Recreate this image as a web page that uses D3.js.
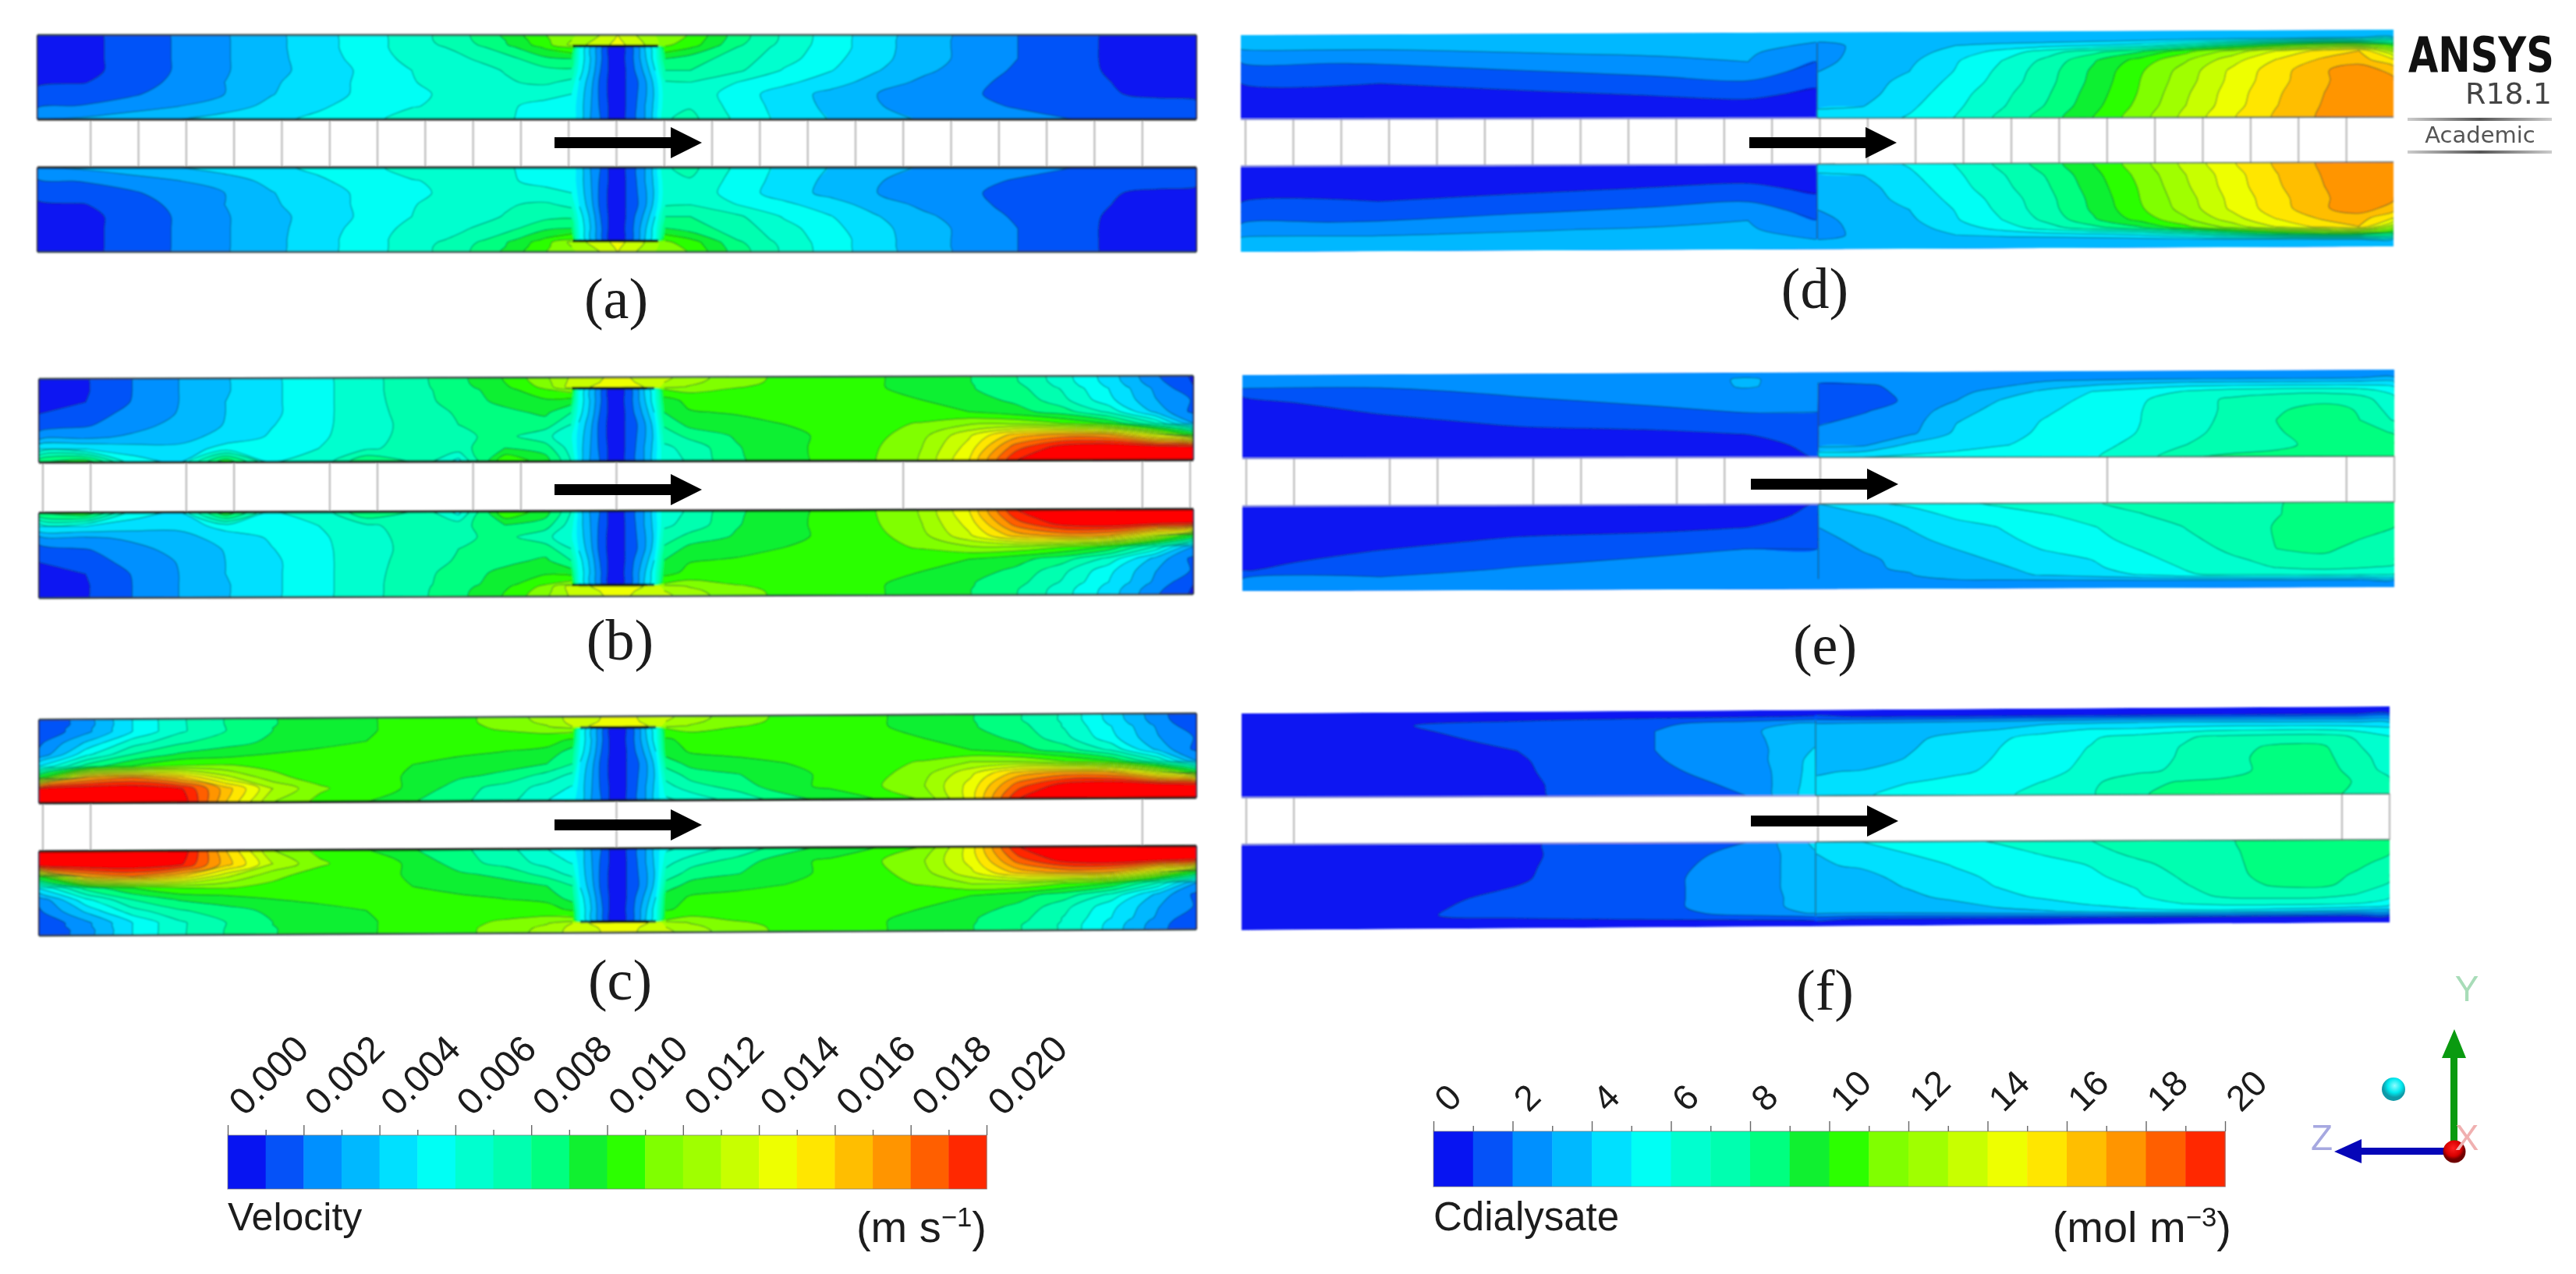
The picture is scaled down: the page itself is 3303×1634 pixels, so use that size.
<!DOCTYPE html>
<html>
<head>
<meta charset="utf-8">
<script src="https://cdn.jsdelivr.net/npm/d3@7"></script>
<style>
  html, body { margin: 0; background: #fff; }
  svg { display: block; }
  text { font-family: "Liberation Sans", Arial, sans-serif; fill: #1c1c1c; }
</style>
</head>
<body>
<svg id="chart" width="3303" height="1634"></svg>
<script>
// band colours shared by both legends, index = band number
const bandColors = ["#0714f2","#0552f8","#0090ff","#00b8ff","#00e0ff","#00fff5","#00ffcf","#00ffb0","#00ff80","#10f030","#2cff00","#80ff00","#a0ff00","#c8ff00","#eeff00","#ffe600","#ffbe00","#ff9500","#ff5f00","#ff2800","#ff0000"];
const bandLevels = d3.range(1, 21);

const velocityTicks = [0,0.002,0.004,0.006,0.008,0.01,0.012,0.014,0.016,0.018,0.02];
const velocityMinorTicks = [0.001,0.003,0.005,0.007,0.009,0.011,0.013,0.015,0.017,0.019];
const concTicks = [0,2,4,6,8,10,12,14,16,18,20];
const concMinorTicks = [1,3,5,7,9,11,13,15,17,19];

// sample positions of the read-off fields: axial along the tube, radial from outer wall (0) to inner wall (1)
const axialVelocity = [0,60,120,180,240,300,360,420,480,540,600,652,685,695,709,722,732,744,756,767,779,792,805,837,897,957,1017,1077,1137,1197,1257,1317,1377,1437,1486];
const radialVelocity = [0,0.06,0.115,0.145,0.28,0.42,0.56,0.7,0.84,1];
const axialConc = [0,12,24,36,44,49.9,50.1,54,58,62,66,70,74,78,82,86,90,94,97,100];
const radialConc = [0,0.08,0.16,0.24,0.34,0.46,0.58,0.72,0.86,1];

// velocity, in mm/s (a)-(c)
const velocityA = [
[.3,.7,1.4,2.1,2.9,3.7,4.6,5.5,6.5,7.6,9.2,11,11.8,12.1,12.6,13,13.5,14,13.5,13,12.6,12,11.7,10.9,8.5,6.8,5.5,4.4,3.45,2.7,2,1.4,.85,.5,.3],
[.3,.7,1.4,2.1,2.9,3.7,4.6,5.5,6.5,7.6,9,10.8,12,12.4,12.9,13.3,13.7,14.2,13.7,13.3,12.8,12.2,11.5,10.7,8.4,6.8,5.5,4.4,3.4,2.7,2,1.4,.85,.5,.3],
[.3,.7,1.4,2.1,2.9,3.7,4.6,5.5,6.5,7.4,8.9,10.6,12.3,12.7,13.2,13.6,13.9,14.5,13.9,13.6,13,12.5,11.2,10.5,8.2,6.7,5.5,4.4,3.4,2.7,2,1.4,.85,.5,.3],
[.3,.7,1.4,2.1,2.9,3.7,4.6,5.5,6.5,7.2,8.6,10.2,11,6,4,2.3,1,.4,1.2,2.4,4,5.7,10.8,10.1,8,6.6,5.5,4.4,3.4,2.7,2,1.4,.85,.5,.3],
[.3,.7,1.4,2.1,2.9,3.7,4.5,5.4,6.3,6.8,7.6,8.8,9,5.8,4,2.2,1,.4,1.2,2.3,3.8,5.5,9,8.5,7.5,6.4,5.3,4.3,3.4,2.7,2,1.4,.85,.5,.3],
[.3,.7,1.4,2.1,2.9,3.7,4.4,5.2,6,6.55,7.05,7.7,7.8,5.5,3.8,2,1,.4,1.1,2.1,3.3,5,8,8,7.2,5.9,5.05,4.05,3.2,2.5,1.85,1.35,.9,.55,.35],
[.85,.95,1.6,2.2,3,3.85,4.55,5.2,5.95,6.4,6.9,7.2,6.7,4.9,3.4,1.7,.9,.4,1.1,1.7,2.8,4.4,6.9,7,6,5.25,4.45,3.55,2.75,2.2,1.75,1.35,1,.75,.6],
[1.25,1.5,1.85,2.5,3,3.95,4.6,5.2,5.85,6.2,6.3,6.2,6,4.6,3.2,1.7,.9,.4,1.1,1.8,2.8,4.2,6.6,6.7,5.5,4.5,3.7,3,2.45,2.1,1.7,1.4,1.05,.85,.75],
[1.8,2.05,2.5,2.95,3.55,4.25,4.85,5.4,5.95,6.2,6.1,5.8,5.6,4.5,3.1,1.8,1,.4,1.1,1.9,3,4.3,6.7,6.9,5.6,4.6,3.75,3.05,2.65,2.25,1.9,1.65,1.45,1.3,1.2],
[3,3.2,3.6,4,4.4,4.8,5.2,5.8,6.3,6.3,6.1,5.6,5.5,4.4,3,2,1,.4,1.1,1.9,3,4.3,6.9,7.3,5.8,4.7,3.95,3.4,2.9,2.6,2.35,2.05,1.8,1.6,1.5]
];
const velocityB = [
[.4,.9,2,3,3.9,4.8,5.7,6.6,7.6,8.7,10.1,11.8,13.1,13.2,13.5,13.8,14.1,14.4,14.1,13.8,13.5,13.3,13.3,12.5,11.4,10.8,10.45,10.1,9.6,9.05,8.05,6.4,4.5,2.1,.8],
[.4,.9,2,3,3.9,4.8,5.7,6.6,7.6,8.7,10,11.6,13.3,13.4,13.7,14,14.2,14.5,14.2,14,13.7,13.4,13,12.3,11.3,10.8,10.45,10.1,9.6,9.05,8.1,6.5,4.6,2.3,.9],
[.4,.9,2,3,3.9,4.8,5.7,6.6,7.6,8.6,9.8,11.3,13.5,13.7,14,14.3,14.4,14.7,14.4,14.3,14,13.7,12.5,11.9,11.1,10.7,10.4,10.1,9.6,9.1,8.3,6.7,4.8,2.6,1],
[.4,.9,2,3,3.9,4.8,5.7,6.6,7.6,8.5,9.6,10.9,11.5,6,4,2.3,1,.4,1.2,2.4,4,5.7,11,11.3,10.9,10.6,10.4,10.1,9.7,9.1,8.4,6.9,5,2.8,1.1],
[.6,1,2.05,3,4,4.8,5.7,6.6,7.5,8.45,9.3,9.8,9.5,5.8,4,2.2,1,.4,1.2,2.3,3.8,5.5,9.5,10.3,10.3,10.3,10.2,10.1,10,9.4,8.8,7.3,5.3,3.05,1.9],
[1,1.4,2.4,3.05,4,4.8,5.7,6.6,7.37,8.12,8.7,9.2,8,5.5,3.8,2,1,.4,1.1,2.1,3.3,5,9,9.9,10.1,10.3,10.4,10.3,10.2,10,9.35,8.5,6.7,3.7,1.7],
[1.6,1.9,2.6,3.35,4.05,4.95,5.75,6.55,7.3,8,8.5,8.5,7,4.9,3.4,1.7,.9,.4,1.1,1.7,2.8,4.4,8.2,9.3,9.6,10,10.3,10.7,11.1,11.8,11.8,11,9.9,7,3],
[2.4,2.75,3.2,3.7,4.3,5.15,5.8,6.65,7.3,7.8,8.3,7.3,6.2,4.6,3.2,1.7,.9,.4,1.1,1.8,2.8,4.2,7.4,8.3,9.1,9.7,10.2,10.7,11.7,13.8,16.5,17.5,17.2,14,10],
[5,5,4.5,4.2,5.5,5.6,6,6.8,7.4,7.6,9,8.5,6.5,4.5,3.1,1.8,1,.4,1.1,1.9,3,4.3,6.8,7.3,8.9,9.7,10.25,10.9,12,14.4,18.5,20.5,21,20.5,20],
[9,10,5.5,5,10,6,6.2,9,8,5.5,11,9.5,7,4.4,3,2,1,.4,1.1,1.9,3,4.3,6.5,7.1,8.8,9.6,10.25,11,12.1,15,20,22,22,22,22]
];
const velocityC = [
[1,2.5,5,6.8,8.05,8.95,9.4,9.9,10.3,10.75,11.4,12.5,13.3,13.4,13.7,14,14.2,14.5,14.2,14,13.7,13.4,13.3,12.5,11.4,10.8,10.45,10.1,9.6,9.05,8.1,6.8,4.5,2.3,1],
[1,2.5,5,6.8,8.05,8.95,9.4,9.9,10.3,10.75,11.4,12.3,13.3,13.5,13.8,14.1,14.3,14.6,14.3,14.1,13.8,13.5,13,12.3,11.3,10.8,10.45,10.1,9.6,9.05,8.1,6.8,4.6,2.4,1],
[1.1,2.7,5,6.8,8,9,9.4,9.9,10.3,10.75,11.2,11.9,13,13.7,14.1,14.4,14.5,14.8,14.5,14.4,14.1,13.7,12.5,11.9,11.1,10.7,10.4,10.1,9.6,9.1,8.3,6.9,4.8,2.6,1.1],
[1.1,2.7,5,6.8,8,9,9.4,9.9,10.3,10.75,11.1,11.4,11.5,6,4,2.3,1,.4,1.2,2.4,4,5.7,11,11.3,10.9,10.6,10.4,10.1,9.7,9.1,8.4,6.9,5,2.8,1.2],
[1.8,4.1,6.5,7.8,8.6,9.2,9.6,10,10.3,10.4,10.4,10.4,9.8,5.8,4,2.2,1,.4,1.2,2.3,3.8,5.5,9.8,10.4,10.4,10.3,10.2,10.1,10,9.4,8.8,7.3,5.3,3.05,1.9],
[2.2,5.7,8,9.1,9.5,10,10.3,10.4,10.3,10.2,9.95,9.7,8.5,5.5,3.8,2,1,.4,1.1,2.1,3.3,5,9.5,10.1,10.3,10.4,10.4,10.3,10.2,10,9.35,8.5,6.7,3.7,1.7],
[5,8.4,10,11,11.1,10.7,10.5,10.4,10,9.6,9.4,9,8,4.9,3.4,1.7,.9,.4,1.1,1.7,2.8,4.4,8.4,9.4,9.7,10,10.3,10.7,11.1,12,12,11,10,7,3],
[10,17,18,16.3,13.3,11.3,10.5,10.3,9.9,9.2,8.7,7.6,6.7,4.6,3.2,1.7,.9,.4,1.1,1.8,2.8,4.2,7.4,8.4,8.95,9.7,10.2,10.7,11.7,13.8,16.5,17.5,17.2,14,10],
[20.5,21,21,20.3,16.5,13,11.2,10.3,9.9,8.4,7.6,6.6,5.9,4.5,3.1,1.8,1,.4,1.1,1.9,3,4.3,6.6,7.6,8.4,9.7,10.2,10.9,12,14.4,18.5,20.5,21,20.5,20],
[22,22,22,21,16,12,10.7,10,9.05,8.2,7.3,6,5.2,4.4,3,2,1,.4,1.1,1.9,3,4.3,5.8,6.2,7.3,8.4,9.3,10,11.1,14.5,20,22,22,22,22]
];

// concentration, mol/m3 (d)-(f)
const concD = [
[3.5,3.5,3.5,3.5,3.5,3.5,3.3,3.3,3.3,3.3,3.3,3.3,3.3,3.3,3.3,3.3,3.3,3.3,3.3,3.3],
[3.3,3.3,3.3,3.4,3.4,3.15,3.2,3.2,3.2,3.2,3.2,3.2,3.2,3.2,3.2,3.2,3.2,3.4,3.6,3.5],
[3.05,3.1,3.15,3.2,3.3,2.8,2.7,3.2,3.5,4,4.3,4.5,4.8,5.3,6.5,8,9.5,10.5,10.5,9],
[2.5,2.7,2.95,3.08,3.1,2.45,2.6,3.3,3.6,4.4,5.4,6.6,7.7,8.9,10.7,12.4,14.1,15.4,16,12.5],
[1.9,2.05,2.45,2.8,3,2,2.7,3.4,3.8,4.9,6,7.3,8.9,10.4,11.9,13.6,15.1,16.2,16.5,15],
[1.4,1.5,1.85,2.2,2.5,1.6,3,3.6,4,5.05,6.25,7.6,9.2,10.85,12.45,14.2,15.6,16.9,17.6,16.6],
[.97,1,1.3,1.65,1.9,1.2,3.2,3.65,4.25,5.3,6.4,7.7,9.3,11,12.6,14.3,15.7,16.9,17.5,17.2],
[.7,.7,.8,1.05,1.2,.8,3.3,3.7,4.5,5.6,6.7,7.9,9.5,11.1,12.85,14.5,15.9,17,17.5,17.6],
[.5,.5,.5,.6,.7,.55,3.9,3.98,4.8,5.8,6.9,8.1,9.7,11.3,13,14.6,16,17.1,17.5,17.7],
[.3,.3,.3,.3,.3,.3,4.3,4.5,5.1,6.05,7.25,8.5,10.05,11.6,13.3,14.9,16.2,17.2,17.6,17.8]
];
const concEUpper = [
[2.6,2.6,2.6,2.6,2.7,2.6,2.4,2.6,2.6,2.6,2.6,2.6,2.6,2.6,2.6,2.6,2.6,2.6,2.6,2.6],
[2.3,2.3,2.5,2.6,3.1,2.5,2.3,2.5,2.6,2.6,2.6,2.6,2.6,2.6,2.6,2.6,2.6,2.6,2.7,2.8],
[2,2,2.3,2.5,3.1,2.4,1.8,1.85,2.3,2.6,2.8,3.5,3.9,4.3,4.6,4.6,4.6,4.6,4.6,4.5],
[1.05,1.65,2.1,2.4,2.7,2.3,1.7,1.75,2.2,2.7,3.5,4.3,5.05,5.5,6.05,6.5,6.7,6.7,6.5,5.5],
[.8,1.3,1.8,2.15,2.4,2.15,1.6,1.75,2.1,3,4.1,4.7,5.25,5.9,6.55,7.2,7.5,7.7,7.4,6.3],
[.65,1.03,1.5,1.8,2.05,2.02,1.65,1.95,2.4,3.6,4.4,4.9,5.45,5.98,6.6,7.2,7.9,8.4,7.9,6.5],
[.5,.8,1.1,1.3,1.6,1.7,1.9,2.2,2.6,3.95,4.55,5.1,5.5,6,6.65,7.25,8.05,8.4,8,6.9],
[.4,.6,.8,.85,1.03,1.4,2.2,2.4,2.8,4.2,4.7,5.2,5.6,6.05,6.75,7.35,7.95,8.4,8.4,7.9],
[.3,.4,.5,.6,.7,1.2,2.7,2.9,4.3,4.6,4.95,5.3,5.7,6.3,7,7.45,7.8,8.3,8.4,8.4],
[.2,.2,.3,.4,.5,1.05,4.9,5,5.2,5.4,5.7,5.8,5.95,6.5,7.9,8.2,8.25,8.4,8.4,8.4]
];
const concELower = [
[2.6,2.6,2.6,2.6,2.7,2.6,2.6,2.6,2.6,2.6,2.6,2.6,2.6,2.6,2.6,2.6,2.6,2.6,2.6,2.6],
[2.3,2.3,2.5,2.6,2.6,2.5,2.5,2.7,2.7,2.7,2.7,2.7,2.7,2.7,2.7,2.7,2.7,2.7,2.7,2.7],
[1.9,2,2.3,2.5,2.6,2.4,2.7,2.8,2.95,3.6,3.8,4.1,4.5,5.1,5.9,6.3,6.5,6.6,6.5,6.3],
[.95,1.65,2.1,2.4,2.5,2.3,2.8,2.9,3.1,3.55,3.9,4.35,4.85,5.5,6.1,6.7,7.05,7.2,7.1,6.9],
[.8,1.3,1.8,2.15,2.4,2.15,2.6,2.85,3.25,3.7,4.15,4.6,5.05,5.75,6.35,6.9,7.3,7.8,7.6,7.3],
[.65,1.03,1.5,1.8,2.05,2.02,2.6,3.05,3.5,4,4.55,5.1,5.55,6.05,6.6,7.2,8.05,8.2,7.7,7.4],
[.5,.8,1.1,1.3,1.6,1.7,2.7,3.3,3.8,4.3,4.85,5.3,5.8,6.3,6.85,7.35,8.1,8.4,8.05,7.6],
[.4,.6,.8,.85,1.03,1.4,3,3.5,4.05,4.6,5.05,5.4,5.98,6.5,7.05,7.5,8.1,8.4,8.4,8.05],
[.3,.4,.5,.6,.7,1.2,3.6,3.85,4.5,5.2,5.55,5.95,6.4,6.95,7.4,7.7,7.98,8.4,8.5,8.5],
[.2,.2,.3,.4,.5,1.05,4,4.8,5.2,5.8,6.2,6.6,6.95,7.3,7.6,7.8,7.95,8.4,8.5,8.5]
];
const concFUpper = [
[.4,.4,.4,.4,.4,.4,.4,.4,.4,.4,.4,.4,.4,.4,.4,.4,.4,.4,.4,.4],
[.4,.7,.8,.9,1,1.1,1.2,.9,.9,.9,.9,.9,.9,.9,.9,.9,.9,.9,.9,.9],
[.4,.9,1.3,1.8,2.6,3.2,3,3.1,3.2,3.3,3.5,3.7,3.8,3.9,3.9,3.8,3.7,3.7,3.6,3.5],
[.4,.7,1.4,2,2.8,3.7,3.3,3.3,3.5,3.8,4,4.6,4.98,5.05,5.4,5.6,5.6,5.6,5.4,5],
[.4,.6,1.2,2,2.7,3.8,3.4,3.4,3.8,4.25,4.85,5.4,5.9,6.4,6.9,7.25,7.4,7.4,6.9,6],
[.4,.5,1,2,2.5,4.05,3.5,3.5,3.9,4.45,5,5.55,6.05,6.55,7.05,7.6,8.2,8.2,7.2,6.1],
[.4,.5,.9,1.95,2.4,4.3,3.7,3.6,4.05,4.55,5.1,5.6,6.15,6.6,7.1,7.75,8.3,8.3,7.5,6.4],
[.4,.5,.85,1.9,2.2,4.4,3.95,4.05,4.4,4.8,5.2,5.75,6.25,6.75,7.2,7.7,8.3,8.4,7.7,6.6],
[.4,.5,.8,1.8,2.1,4.5,4.1,4.6,5,5.3,5.7,6.05,6.8,7.7,8.1,8.2,8.4,8.4,7.95,7.2],
[.4,.5,.8,1.7,2,4.6,4.4,4.9,5.3,5.6,5.9,6.2,6.9,7.9,8.3,8.6,8.4,8.3,7.8,7]
];
const concFLower = [
[.4,.4,.4,.4,.4,.4,.4,.4,.4,.4,.4,.4,.4,.4,.4,.4,.4,.4,.4,.4],
[.4,.7,.8,.9,1,1.1,1.2,.9,.9,.9,.9,.9,.9,.9,.9,.9,.9,.9,.9,.9],
[.4,.85,1.2,1.5,2.4,3.1,3.2,3.1,3.2,3.4,3.7,3.9,4.3,4.7,4.9,4.9,4.7,4.5,4.3,4],
[.4,.6,1.4,1.75,2.5,3.4,3.4,3.2,3.5,3.7,4.2,4.6,5.05,5.6,6,6.3,6.4,6.4,6.2,5.6],
[.4,.5,1.3,1.8,2.4,3.5,3.5,3.35,3.75,4.25,4.7,5.2,5.6,5.9,6.55,7.3,7.4,7.35,7,6.3],
[.4,.5,1.05,1.8,2.4,3.6,3.6,3.6,4.05,4.55,5.05,5.4,5.75,6.05,6.9,7.6,8.1,8.2,7.7,6.9],
[.4,.5,.9,1.85,2.3,3.7,3.7,3.75,4.25,4.75,5.2,5.5,5.85,6.35,7.15,7.8,8.25,8.4,7.9,7.3],
[.4,.5,.85,1.85,2.2,3.8,3.9,4.1,4.5,5.05,5.35,5.7,6.05,6.75,7.4,7.85,8.3,8.4,8.25,7.7],
[.4,.5,.8,1.85,2.1,3.9,4,4.6,5,5.3,5.7,6.1,6.6,7.3,7.7,7.9,8.3,8.4,8.4,8.1],
[.4,.5,.8,1.9,2,4.2,4.3,5,5.4,5.8,6.1,6.5,7,7.5,7.8,7.95,8.3,8.5,8.6,8.5]
];

// mesh stations visible in the open lumen of each panel
const stationsA = [1,2,3,4,5,6,7,8,9,10,11,12,13,14,15,16,17,18,19,20,21,22,23];
const stationsB = [0,1,3,4,6,7,9,10,12,18,23,24];
const stationsC = [0,1,12,23];
const stationsD = [0,1,2,3,4,5,6,7,8,9,10,11,12,13,14,15,16,17,18,19,20,21,22,23];
const stationsE = [0,1,3,4,6,7,9,10,12,18,23,24];
const stationsF = [0,1,12,23,24];

const panelLabels = ["(a)","(b)","(c)","(d)","(e)","(f)"];

// columns with a jump in the field, no contour strokes drawn across them
const steepVelocity = [[12.5,13.5],[21.5,22.5]];
const steepConc = [[5.5,6.5]];

// layout only: wall lines as [left, right] pixel heights
const panels = [
  { id:"a", axial:axialVelocity, radial:radialVelocity, steep:steepVelocity, domain:[0,1486], x:[48,1534], stX:[55,1526], stations:stationsA,
    up:velocityA, low:velocityA, topO:[45,45], topI:[153,153], lowO:[323,323], lowI:[215,215], strong:true, cap:[686,796], arrowY:183, lx:790, ly:408 },
  { id:"b", axial:axialVelocity, radial:radialVelocity, steep:steepVelocity, domain:[0,1486], x:[50,1530], stX:[55,1526], stations:stationsB,
    up:velocityB, low:velocityB, topO:[486,482], topI:[593,590], lowO:[767,762], lowI:[658,653], strong:true, cap:[686,783], arrowY:628, lx:795, ly:846 },
  { id:"c", axial:axialVelocity, radial:radialVelocity, steep:steepVelocity, domain:[0,1486], x:[50,1534], stX:[55,1526], stations:stationsC,
    up:velocityC, low:velocityC, topO:[923,915], topI:[1030,1023], lowO:[1200,1192], lowI:[1092,1085], strong:true, cap:[708,783], arrowY:1058, lx:795, ly:1282 },
  { id:"d", axial:axialConc, radial:radialConc, steep:steepConc, domain:[0,100], x:[1591,3069], stX:[1597,3070], stations:stationsD,
    up:concD, low:concD, topO:[45,38], topI:[153,150], lowO:[323,316], lowI:[213,208], arrowY:183, lx:2327, ly:395, arrowX:2243 },
  { id:"e", axial:axialConc, radial:radialConc, steep:steepConc, domain:[0,100], x:[1593,3070], stX:[1598,3070], stations:stationsE,
    up:concEUpper, low:concELower, topO:[481,474], topI:[588,585], lowO:[758,753], lowI:[649,644], arrowY:621, lx:2340, ly:852, arrowX:2245 },
  { id:"f", axial:axialConc, radial:radialConc, steep:steepConc, domain:[0,100], x:[1592,3064], stX:[1598,3064], stations:stationsF,
    up:concFUpper, low:concFLower, topO:[915,906], topI:[1023,1018], lowO:[1193,1183], lowI:[1083,1077], arrowY:1053, lx:2340, ly:1295, arrowX:2245 }
];

const svg = d3.select("#chart");
const defs = svg.append("defs");
defs.append("filter").attr("id","soft").append("feGaussianBlur").attr("stdDeviation",0.9);
const fieldLayer = svg.append("g").attr("filter","url(#soft)");

const closedCurve = d3.line().curve(d3.curveCatmullRomClosed.alpha(0.5));
const openCurve = d3.line().curve(d3.curveCatmullRom.alpha(0.5));
let clipCount = 0;

// Contour one half of a tube, index space of d3.contours -> axial/radial -> pixels
function drawHalf(parent, p, grid, outer, inner) {
  const n = p.axial.length, m = p.radial.length;
  const toAxial = edgeScale(p.axial), toRadial = edgeScale(p.radial);
  const x = d3.scaleLinear().domain(p.domain).range(p.x);
  const yO = d3.scaleLinear().domain(p.domain).range(outer);
  const yI = d3.scaleLinear().domain(p.domain).range(inner);
  const project = ([i, j]) => {
    const a = toAxial(i), r = toRadial(j);
    return [x(a), yO(a) + (yI(a) - yO(a)) * r];
  };
  const isEdge = ([i, j]) => i <= 0 || i >= n || j <= 0 || j >= m;
  const inSteep = ([i]) => p.steep.some(([lo, hi]) => i >= lo && i <= hi);

  const outline = [[0,0],[n,0],[n,m],[0,m]].map(project);
  const clipId = "half" + (clipCount++);
  defs.append("clipPath").attr("id", clipId).append("polygon").attr("points", outline.join(" "));
  const g = parent.append("g").attr("clip-path", `url(#${clipId})`);

  // lowest band as the base polygon
  g.append("polygon").attr("points", outline.join(" ")).attr("fill", bandColors[0]);

  const contours = d3.contours().size([n, m]).thresholds(bandLevels)(grid.flat());
  contours.forEach(c => {
    let fill = "", line = "";
    c.coordinates.forEach(poly => poly.forEach(ring => {
      fill += closedCurve(ring.slice(0, -1).map(project));
      // wall segments and jump columns get no contour stroke
      let run = [];
      ring.forEach((pt, k) => {
        const prev = ring[k - 1];
        if (k > 0 && ((isEdge(prev) && isEdge(pt)) || (inSteep(prev) && inSteep(pt)))) {
          if (run.length > 1) line += openCurve(run.map(project));
          run = [];
        }
        run.push(pt);
      });
      if (run.length > 1) line += openCurve(run.map(project));
    }));
    if (!fill) return;
    g.append("path").attr("d", fill).attr("fill", bandColors[c.value]);
    c.line = line;
  });
  contours.forEach(c => {
    if (c.line) g.append("path").attr("d", c.line).attr("fill","none")
      .attr("stroke","#0c3a3a").attr("stroke-opacity",0.5).attr("stroke-width",1.2);
  });
}

// values sit at cell centres in d3.contours, the outermost half cell is clamped to the wall
function edgeScale(values) {
  const dom = [0], rng = [values[0]];
  values.forEach((v, i) => { dom.push(i + 0.5); rng.push(v); });
  dom.push(values.length); rng.push(values[values.length - 1]);
  return d3.scaleLinear().domain(dom).range(rng);
}

panels.forEach(p => {
  const g = fieldLayer.append("g").attr("class","panel-" + p.id);
  const yAt = (ends, px) => d3.scaleLinear().domain(p.x).range(ends)(px);

  drawHalf(g, p, p.up, p.topO, p.topI);
  drawHalf(g, p, p.low, p.lowO, p.lowI);

  // mesh lines across the lumen
  const st = d3.scaleLinear().domain([0,24]).range(p.stX);
  g.append("g").selectAll("line").data(p.stations).enter().append("line")
    .attr("x1", d => st(d)).attr("x2", d => st(d))
    .attr("y1", d => yAt(p.topI, st(d))).attr("y2", d => yAt(p.lowI, st(d)))
    .attr("stroke","#9a9a9a").attr("stroke-width",1.5);

  // walls
  const wall = (ends, color, w) => g.append("line")
    .attr("x1", p.x[0]).attr("x2", p.x[1]).attr("y1", ends[0]).attr("y2", ends[1])
    .attr("stroke", color).attr("stroke-width", w);
  if (p.strong) {
    wall(p.topI,"#101510",3.2); wall(p.lowI,"#101510",3.2);
    wall(p.topO,"#2a3a3a",2.6); wall(p.lowO,"#2a3a3a",2.6);
    [[p.topO,p.topI],[p.lowO,p.lowI]].forEach(([a,b]) => {
      g.append("line").attr("x1",p.x[0]).attr("x2",p.x[0]).attr("y1",a[0]).attr("y2",b[0]).attr("stroke","#223").attr("stroke-width",2);
      g.append("line").attr("x1",p.x[1]).attr("x2",p.x[1]).attr("y1",a[1]).attr("y2",b[1]).attr("stroke","#223").attr("stroke-width",2);
    });
    // caps on the top of the constriction
    const ax = d3.scaleLinear().domain(p.domain).range(p.x);
    [[p.topO,p.topI],[p.lowO,p.lowI]].forEach(([a,b]) => {
      const y = a[0] + (a[1]-a[0])*0.5 + ((b[0]+b[1])/2 - (a[0]+a[1])/2) * 0.13;
      g.append("line").attr("x1",ax(p.cap[0])).attr("x2",ax(p.cap[1])).attr("y1",y).attr("y2",y)
        .attr("stroke","#0a140a").attr("stroke-width",3.4);
    });
  } else {
    const mid = d3.scaleLinear().domain(p.domain).range(p.x)(50);
    [p.topI,p.lowI].forEach(e => {
      const midY = yAt(e, mid);
      g.append("line").attr("x1",mid).attr("x2",p.x[1]).attr("y1",midY).attr("y2",e[1]).attr("stroke","#2f4f4f").attr("stroke-width",1.6);
      g.append("line").attr("x1",p.x[0]).attr("x2",mid).attr("y1",e[0]).attr("y2",midY).attr("stroke","#8b93d8").attr("stroke-width",2);
    });
    // thin interface line at mid length
    [[p.topO,p.topI],[p.lowO,p.lowI]].forEach(([a,b]) => {
      const yo = yAt(a, mid), yi = yAt(b, mid);
      g.append("line").attr("x1",mid).attr("x2",mid).attr("y1",yo + (yi - yo) * 0.12).attr("y2",yi)
        .attr("stroke","#1d4a55").attr("stroke-opacity",0.8).attr("stroke-width",1.3);
    });
  }

  // flow arrow
  const ax0 = p.arrowX || 711;
  svg.append("polygon").attr("fill","#000")
    .attr("points", [[ax0,p.arrowY-7],[ax0+149,p.arrowY-7],[ax0+149,p.arrowY-20],[ax0+189,p.arrowY],[ax0+149,p.arrowY+20],[ax0+149,p.arrowY+7],[ax0,p.arrowY+7]].join(" "));
});

// panel captions
panels.forEach((p, i) => {
  svg.append("text").text(panelLabels[i]).attr("x", p.lx).attr("y", p.ly)
    .attr("text-anchor","middle").style("font-family","'Liberation Serif', serif").style("font-size","74px");
});

// Colour legends built on a linear scale + d3 axes
function drawLegend(opts) {
  const { x0, x1, top, bottom, ticks, minor, format, label, unit, sup, fontSize, labelSize, labelY, unitEnd, unitY, unitSize, shift } = opts;
  const dom = [ticks[0], ticks[ticks.length - 1]];
  const scale = d3.scaleLinear().domain(dom).range([x0, x1]);
  const g = svg.append("g");
  const step = (dom[1] - dom[0]) / 20;
  g.append("g").selectAll("rect").data(d3.range(20)).enter().append("rect")
    .attr("x", d => scale(dom[0] + d * step)).attr("width", d => scale(dom[0] + (d + 1) * step) - scale(dom[0] + d * step) + 0.5)
    .attr("y", top).attr("height", bottom - top)
    .attr("fill", d => bandColors[d]);
  g.append("rect").attr("x",x0).attr("y",top).attr("width",x1-x0).attr("height",bottom-top)
    .attr("fill","none").attr("stroke","#777").attr("stroke-opacity",0.5).attr("stroke-width",1.5);

  const axis = g.append("g").attr("transform", `translate(0,${top})`)
    .call(d3.axisTop(scale).tickValues(ticks).tickSize(13).tickFormat(format));
  axis.select(".domain").remove();
  axis.selectAll("line").attr("stroke","#666").attr("stroke-width",1.4);
  axis.selectAll("text")
    .attr("x",0).attr("y",0).attr("dy",0)
    .attr("text-anchor","start")
    .attr("transform",`translate(${shift},-23) rotate(-45)`)
    .style("font-size", fontSize + "px")
    .style("font-family","'Liberation Sans', sans-serif");

  const axisMinor = g.append("g").attr("transform", `translate(0,${top})`)
    .call(d3.axisTop(scale).tickValues(minor).tickSize(7).tickFormat(""));
  axisMinor.select(".domain").remove();
  axisMinor.selectAll("line").attr("stroke","#666").attr("stroke-width",1.4);

  g.append("text").text(label).attr("x",x0).attr("y",labelY).style("font-size",labelSize + "px");
  const u = g.append("text").attr("x",unitEnd).attr("y",unitY).attr("text-anchor","end").style("font-size",unitSize + "px");
  u.append("tspan").text(unit);
  u.append("tspan").text(sup).attr("dy",-20).style("font-size",(unitSize * 0.62) + "px");
  u.append("tspan").text(")").attr("dy",20);
}

drawLegend({ x0:292, x1:1265, top:1456, bottom:1525, ticks:velocityTicks, minor:velocityMinorTicks, format:d3.format(".3f"),
  label:"Velocity", unit:"(m s", sup:"−1", fontSize:48, labelSize:50, labelY:1578, unitEnd:1265, unitY:1593, unitSize:56, shift:21 });
drawLegend({ x0:1838, x1:2853, top:1451, bottom:1522, ticks:concTicks, minor:concMinorTicks, format:d3.format("d"),
  label:"Cdialysate", unit:"(mol m", sup:"−3", fontSize:46, labelSize:51, labelY:1578, unitEnd:2861, unitY:1593, unitSize:56, shift:20 });

// ANSYS badge
const badge = svg.append("g");
badge.append("text").text("ANSYS").attr("transform","translate(3088,92) scale(1,1.25)")
  .style("font-size","49.5px").style("font-weight","bold").style("font-family","'DejaVu Sans', sans-serif").style("fill","#111");
badge.append("text").text("R18.1").attr("x",3272).attr("y",133).attr("text-anchor","end")
  .style("font-size","38px").style("font-family","'DejaVu Sans', sans-serif").style("fill","#444");
badge.append("text").text("Academic").attr("x",3180).attr("y",183).attr("text-anchor","middle")
  .style("font-size","29px").style("font-family","'DejaVu Sans', sans-serif").style("fill","#555");
const fade = defs.append("linearGradient").attr("id","rule");
[[0,"#ccc"],[0.5,"#555"],[1,"#ccc"]].forEach(([o,c]) => fade.append("stop").attr("offset",o).attr("stop-color",c));
[153,195].forEach(y => badge.append("rect").attr("x",3087).attr("y",y-2).attr("width",185).attr("height",4).attr("fill","url(#rule)"));

// orientation triad
const triad = svg.append("g");
const cyan = defs.append("radialGradient").attr("id","cyanBall").attr("cx","55%").attr("cy","35%");
[[0,"#8ffcff"],[0.6,"#00eaf0"],[1,"#109aa8"]].forEach(([o,c]) => cyan.append("stop").attr("offset",o).attr("stop-color",c));
const redBall = defs.append("radialGradient").attr("id","redBall").attr("cx","45%").attr("cy","35%");
[[0,"#ff2020"],[0.7,"#d80000"],[1,"#700000"]].forEach(([o,c]) => redBall.append("stop").attr("offset",o).attr("stop-color",c));
triad.append("polygon").attr("fill","#0a9a10").attr("points","3142,1477 3142,1357 3131,1357 3147,1320 3162,1357 3151,1357 3151,1477");
triad.append("polygon").attr("fill","#0606b8").attr("points","3147,1472 3028,1472 3028,1461 2993,1477 3028,1492 3028,1481 3147,1481");
triad.append("circle").attr("cx",3147).attr("cy",1477).attr("r",14.5).attr("fill","url(#redBall)");
triad.append("circle").attr("cx",3069).attr("cy",1397).attr("r",15).attr("fill","url(#cyanBall)");
[["Y",3163,1284,"#a8dcb8"],["Z",2977,1475,"#a6a8e0"],["X",3163,1475,"#f0b0b0"]].forEach(([t,x,y,c]) => {
  triad.append("text").text(t).attr("x",x).attr("y",y).attr("text-anchor","middle").style("font-size","46px").style("fill",c);
});
</script>
</body>
</html>
